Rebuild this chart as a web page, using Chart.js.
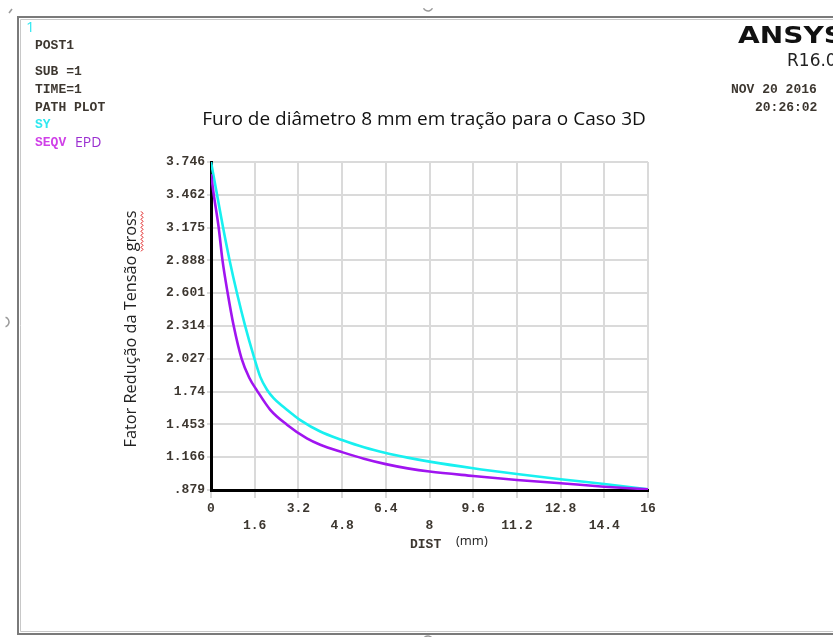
<!DOCTYPE html>
<html>
<head>
<meta charset="utf-8">
<script src="https://cdn.jsdelivr.net/npm/chart.js@4.4.1/dist/chart.umd.min.js"></script>
<style>
  html, body { margin: 0; padding: 0; background: #fff; }
  #wrap { width: 833px; height: 637px; position: relative; }
</style>
</head>
<body>
<div id="wrap"><canvas id="c" width="833" height="637"></canvas></div>
<script>
// Path distance (mm) and stress-concentration factors along the path
const syDist     = [0, 0.22, 0.44, 0.68, 0.95, 1.25, 1.55, 1.8, 2.05, 2.3, 2.6, 3.02, 3.27, 4.0, 4.8, 5.6, 6.4, 7.2, 8.0, 9.6, 11.2, 12.8, 14.4, 16.0];
const syValues   = [3.746, 3.462, 3.175, 2.888, 2.601, 2.314, 2.06, 1.87, 1.755, 1.68, 1.615, 1.535, 1.49, 1.39, 1.316, 1.252, 1.202, 1.162, 1.127, 1.069, 1.019, 0.973, 0.932, 0.885];
const seqvDist   = [0, 0.10, 0.28, 0.42, 0.61, 0.83, 1.12, 1.4, 1.68, 2.17, 2.78, 3.51, 4.0, 4.8, 5.6, 6.4, 7.2, 8.0, 9.6, 11.2, 12.8, 14.4, 16.0];
const seqvValues = [3.64, 3.462, 3.175, 2.888, 2.601, 2.314, 2.027, 1.86, 1.75, 1.58, 1.45, 1.33, 1.275, 1.21, 1.152, 1.105, 1.068, 1.040, 1.002, 0.967, 0.938, 0.908, 0.885];

// Axis tick labels
const yTickLabels = ['.879', '1.166', '1.453', '1.74', '2.027', '2.314', '2.601', '2.888', '3.175', '3.462', '3.746'];
const xTickLabels = ['0', '1.6', '3.2', '4.8', '6.4', '8', '9.6', '11.2', '12.8', '14.4', '16'];

const yMin = 0.879, yMax = 3.746;
const monoFont = '"Liberation Mono", "DejaVu Sans Mono", monospace';
const sansFont = '"Open Sans", "DejaVu Sans", sans-serif';
const inkColor = '#3d3730';

function toPoints(xs, ys) { return xs.map((x, i) => ({ x: x, y: ys[i] })); }

// Frame, header texts and axis titles drawn around the plot
const decorations = {
  id: 'decorations',
  beforeDraw(chart) {
    const ctx = chart.ctx;
    ctx.save();
    ctx.fillStyle = '#fff';
    ctx.fillRect(0, 0, chart.width, chart.height);
    // window frame
    ctx.strokeStyle = '#7a7a7a';
    ctx.lineWidth = 2;
    ctx.beginPath();
    ctx.moveTo(833, 17); ctx.lineTo(18, 17); ctx.lineTo(18, 634); ctx.lineTo(833, 634);
    ctx.stroke();
    ctx.strokeStyle = '#c8c8c8';
    ctx.lineWidth = 1;
    ctx.beginPath();
    ctx.moveTo(833, 19.5); ctx.lineTo(20.5, 19.5); ctx.lineTo(20.5, 631.5); ctx.lineTo(833, 631.5);
    ctx.stroke();
    // resize handles
    ctx.strokeStyle = '#9a9a9a';
    ctx.lineWidth = 1.5;
    ctx.beginPath(); ctx.arc(428, 6, 5, 0.15 * Math.PI, 0.85 * Math.PI); ctx.stroke();
    ctx.beginPath(); ctx.arc(4, 322, 5, -0.4 * Math.PI, 0.4 * Math.PI); ctx.stroke();
    ctx.beginPath(); ctx.arc(428, 641, 5, 1.15 * Math.PI, 1.85 * Math.PI); ctx.stroke();
    ctx.beginPath(); ctx.moveTo(9, 13); ctx.lineTo(12, 9); ctx.stroke();
    ctx.restore();
  },
  afterDraw(chart) {
    const ctx = chart.ctx;
    ctx.save();
    ctx.textBaseline = 'middle';
    ctx.textAlign = 'left';

    // top-left status block
    ctx.font = '15px ' + sansFont;
    ctx.fillStyle = '#30e8f0';
    ctx.fillText('1', 26, 28);
    ctx.font = 'bold 13px ' + monoFont;
    ctx.fillStyle = inkColor;
    ctx.fillText('POST1', 35, 46);
    ctx.fillText('SUB =1', 35, 72);
    ctx.fillText('TIME=1', 35, 90);
    ctx.fillText('PATH PLOT', 35, 108);
    ctx.fillStyle = '#30e8f0';
    ctx.fillText('SY', 35, 125);
    ctx.fillStyle = '#d040e8';
    ctx.fillText('SEQV', 35, 143);
    ctx.font = '14px ' + sansFont;
    ctx.fillStyle = '#9a2ed0';
    ctx.fillText('EPD', 75, 143);

    // product block, top right
    ctx.fillStyle = '#111';
    ctx.font = 'bold 23px "DejaVu Sans", sans-serif';
    ctx.save();
    ctx.translate(738, 37);
    ctx.scale(1.22, 1);
    ctx.fillText('ANSYS', 0, 0);
    ctx.restore();
    ctx.fillStyle = '#222';
    ctx.font = '17px "DejaVu Sans", sans-serif';
    ctx.fillText('R16.0', 787, 62);
    ctx.font = 'bold 13px ' + monoFont;
    ctx.fillStyle = inkColor;
    ctx.fillText('NOV 20 2016', 731, 90);
    ctx.fillText('20:26:02', 755, 108);

    // chart title
    ctx.fillStyle = '#111';
    ctx.font = '19px ' + sansFont;
    ctx.textAlign = 'center';
    ctx.fillText('Furo de diâmetro 8 mm em tração para o Caso 3D', 424, 120);

    // x axis title
    ctx.textAlign = 'left';
    ctx.font = 'bold 13px ' + monoFont;
    ctx.fillStyle = inkColor;
    ctx.fillText('DIST', 410, 545);
    ctx.font = '13px ' + sansFont;
    ctx.fillStyle = '#222';
    ctx.fillText('(mm)', 456, 541);

    // y axis title, rotated
    ctx.save();
    ctx.translate(131, 329);
    ctx.rotate(-Math.PI / 2);
    ctx.textAlign = 'center';
    ctx.font = '16.3px ' + sansFont;
    ctx.fillStyle = '#222';
    const yTitle = 'Fator Redução da Tensão gross';
    ctx.fillText(yTitle, 0, 0);
    // spell-check squiggle under the last word
    const full = ctx.measureText(yTitle).width;
    const lastW = ctx.measureText('gross').width;
    const x1 = full / 2 - lastW, x2 = full / 2;
    ctx.strokeStyle = '#e02020';
    ctx.lineWidth = 1;
    ctx.beginPath();
    let up = true;
    for (let x = x1; x <= x2; x += 2) {
      const yy = 10 + (up ? 0 : 2);
      if (x === x1) ctx.moveTo(x, yy); else ctx.lineTo(x, yy);
      up = !up;
    }
    ctx.stroke();
    ctx.restore();

    ctx.restore();
  }
};

const ctx = document.getElementById('c').getContext('2d');
new Chart(ctx, {
  type: 'line',
  data: {
    datasets: [
      {
        label: 'SEQV',
        data: toPoints(seqvDist, seqvValues),
        borderColor: '#a014f0',
        borderWidth: 2.6,
        pointRadius: 0,
        fill: false,
        cubicInterpolationMode: 'monotone'
      },
      {
        label: 'SY',
        data: toPoints(syDist, syValues),
        borderColor: '#18f0f0',
        borderWidth: 2.6,
        pointRadius: 0,
        fill: false,
        cubicInterpolationMode: 'monotone'
      }
    ]
  },
  options: {
    responsive: false,
    animation: false,
    events: [],
    layout: { padding: { left: 0, top: 162, right: 185, bottom: 0 } },
    plugins: {
      legend: { display: false },
      title: { display: false },
      tooltip: { enabled: false }
    },
    scales: {
      x: {
        type: 'linear',
        min: 0,
        max: 16,
        afterBuildTicks(scale) {
          scale.ticks = xTickLabels.map(l => ({ value: parseFloat(l) }));
        },
        afterFit(scale) { scale.height = 147; },
        ticks: {
          autoSkip: false,
          maxRotation: 0,
          color: inkColor,
          font: { family: monoFont, size: 13, weight: 'bold', lineHeight: 1.3 },
          padding: 2,
          callback(value, index) {
            const label = xTickLabels[index];
            return index % 2 === 0 ? [label, ''] : ['', label];
          }
        },
        grid: { color: '#dadada', lineWidth: 2, tickLength: 8, drawTicks: true },
        border: { color: '#000', width: 3 }
      },
      y: {
        type: 'linear',
        min: yMin,
        max: yMax,
        afterBuildTicks(scale) {
          scale.ticks = yTickLabels.map((l, i) => ({ value: yMin + (yMax - yMin) * i / 10 }));
        },
        afterFit(scale) { scale.width = 211; },
        ticks: {
          autoSkip: false,
          color: inkColor,
          font: { family: monoFont, size: 13, weight: 'bold' },
          padding: 2,
          callback(value, index) { return yTickLabels[index]; }
        },
        grid: { color: '#dadada', lineWidth: 2, tickLength: 4 },
        border: { color: '#000', width: 3 }
      }
    }
  },
  plugins: [decorations]
});
</script>
</body>
</html>
